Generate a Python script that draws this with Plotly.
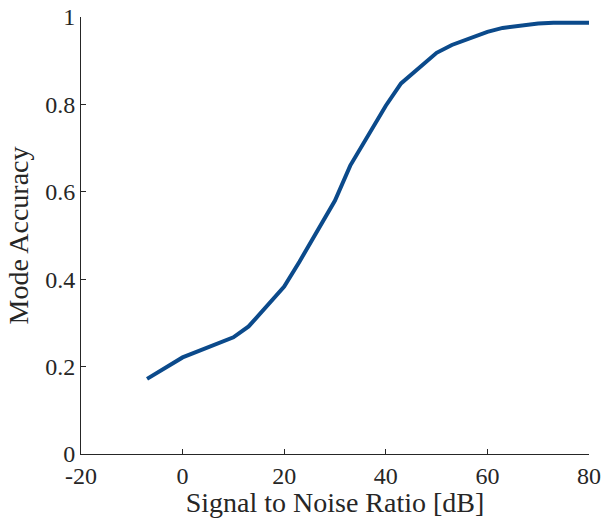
import plotly.graph_objects as go

snr_db = [-7, 0, 10, 13, 20, 23, 30, 33, 40, 43, 50, 53, 60, 63, 70, 73, 80]
mode_accuracy = [0.172, 0.221, 0.267, 0.292, 0.383, 0.44, 0.58, 0.66, 0.797, 0.848,
                 0.918, 0.936, 0.966, 0.975, 0.985, 0.987, 0.987]
x_tick_vals = [-20, 0, 20, 40, 60, 80]
x_tick_text = ["-20", "0", "20", "40", "60", "80"]
y_tick_vals = [0, 0.2, 0.4, 0.6, 0.8, 1]
y_tick_text = ["0", "0.2", "0.4", "0.6", "0.8", "1"]

font_family = "Liberation Serif, DejaVu Serif, serif"
axis_color = "#262626"

fig = go.Figure()
fig.add_trace(go.Scatter(
    x=snr_db, y=mode_accuracy, mode="lines",
    line=dict(color="#0b4a8b", width=4),
    showlegend=False, hoverinfo="skip",
))

fig.update_layout(
    width=610, height=518,
    margin=dict(l=81, r=21, t=17, b=64),
    paper_bgcolor="white", plot_bgcolor="white",
    font=dict(family=font_family, size=24, color=axis_color),
)
fig.update_xaxes(
    range=[-20, 80], tickvals=x_tick_vals, ticktext=x_tick_text,
    showgrid=False, zeroline=False, showline=True, linecolor=axis_color, linewidth=1,
    ticks="inside", ticklen=5, tickcolor=axis_color, automargin=False,
    ticklabeloverflow="allow",
    title=dict(text="Signal to Noise Ratio [dB]", font=dict(size=28), standoff=0),
)
fig.update_yaxes(
    range=[0, 1], tickvals=y_tick_vals, ticktext=y_tick_text,
    showgrid=False, zeroline=False, showline=True, linecolor=axis_color, linewidth=1,
    ticks="inside", ticklen=5, tickcolor=axis_color, automargin=False,
    ticklabeloverflow="allow",
    title=dict(text="Mode Accuracy", font=dict(size=28), standoff=8),
)

# remove the page's default 8px body margin so the figure fills the window exactly
fig.write_html("out.html", config={"displayModeBar": False},
               post_script="document.body.style.margin='0px';")
